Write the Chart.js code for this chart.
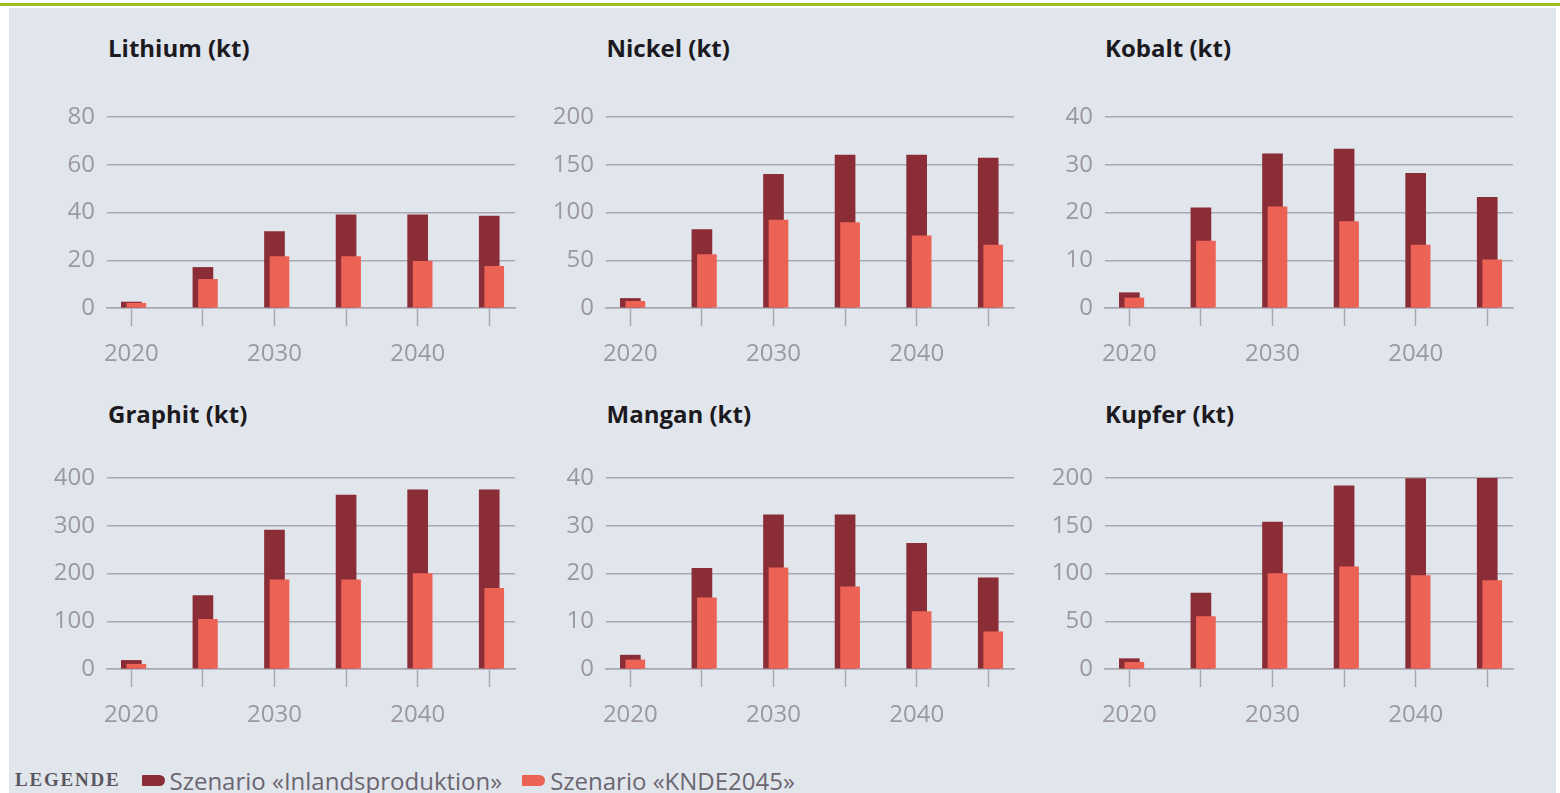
<!DOCTYPE html>
<html>
<head>
<meta charset="utf-8">
<script src="https://cdn.jsdelivr.net/npm/chart.js@4/dist/chart.umd.min.js"></script>
<style>
  body { margin: 0; background: #fff; width: 1560px; height: 793px; overflow: hidden; position: relative; font-family: "Open Sans", sans-serif; }
  #topline { position: absolute; left: 0; top: 3px; width: 1560px; height: 3px; background: #9cbc1e; }
  #panel { position: absolute; left: 9px; top: 8px; width: 1547px; height: 785px; background: #e1e6ed; }
  .title { position: absolute; font-weight: 700; font-size: 24px; color: #1c1a1e; line-height: 30px; }
  .box { position: absolute; width: 500px; height: 290px; }
  #legend { position: absolute; left: 15px; top: 765px; height: 30px; display: flex; align-items: center; color: #6b6670; font-size: 24px; white-space: nowrap; }
  #legend .lab { font-family: "Liberation Serif", serif; font-size: 19px; font-weight: 700; letter-spacing: 1.8px; color: #5b5660; margin-right: 21px; }
  #legend .sw { display: inline-block; width: 23px; height: 11px; border-radius: 1px 6px 6px 1px; margin-right: 5px; }
</style>
</head>
<body>
<div id="topline"></div>
<div id="panel"></div>
<div id="legend">
  <span class="lab">LEGENDE</span>
  <span class="sw" style="background:#8b2d36"></span><span style="margin-right:20px">Szenario «Inlandsproduktion»</span>
  <span class="sw" style="background:#ec6356"></span><span>Szenario «KNDE2045»</span>
</div>
<script>
// Jahre (x-Achse)
const years = [2020, 2025, 2030, 2035, 2040, 2045];

const titles = ["Lithium (kt)", "Nickel (kt)", "Kobalt (kt)", "Graphit (kt)", "Mangan (kt)", "Kupfer (kt)"];

// Szenario «Inlandsproduktion»
const lithiumInland = [2.5, 17, 32, 39, 39, 38.5];
const nickelInland  = [10, 82, 140, 160, 160, 157];
const kobaltInland  = [3.2, 21, 32.3, 33.3, 28.2, 23.2];
const graphitInland = [18, 154, 291, 364, 375, 375];
const manganInland  = [2.9, 21.1, 32.3, 32.3, 26.3, 19.1];
const kupferInland  = [10.8, 79.6, 153.8, 191.7, 199.4, 200];

// Szenario «KNDE2045»
const lithiumKnde = [2, 12, 21.5, 21.5, 19.5, 17.5];
const nickelKnde  = [7, 56, 92, 89.5, 75.5, 66];
const kobaltKnde  = [2.1, 14, 21.2, 18.1, 13.2, 10.1];
const graphitKnde = [10, 104, 187, 187, 200, 169];
const manganKnde  = [1.9, 14.9, 21.2, 17.2, 12, 7.8];
const kupferKnde  = [7, 55, 100, 107, 97.8, 92.5];

const yMax  = [80, 200, 40, 400, 40, 200];
const yStep = [20, 50, 10, 100, 10, 50];

const inland = [lithiumInland, nickelInland, kobaltInland, graphitInland, manganInland, kupferInland];
const knde   = [lithiumKnde, nickelKnde, kobaltKnde, graphitKnde, manganKnde, kupferKnde];

const gridColor = '#a9a8b2';
const tickColor = '#9c98a2';

// hellen Balken etwas nach rechts versetzen
const shiftPlugin = {
  id: 'shift',
  afterDatasetsUpdate(chart) {
    chart.getDatasetMeta(1).data.forEach(b => { b.x += 5; });
  }
};

function makeChart(i) {
  const col = i % 3, row = Math.floor(i / 3);

  const t = document.createElement('div');
  t.className = 'title';
  t.textContent = titles[i];
  t.style.left = (108 + col * 498.5) + 'px';
  t.style.top = (33 + row * 366) + 'px';
  document.body.appendChild(t);

  const box = document.createElement('div');
  box.className = 'box';
  box.style.left = (20 + col * 499) + 'px';
  box.style.top = (90 + row * 361) + 'px';
  const cv = document.createElement('canvas');
  cv.width = 500; cv.height = 290;
  box.appendChild(cv);
  document.body.appendChild(box);

  new Chart(cv, {
    type: 'bar',
    data: {
      datasets: [
        {
          label: 'Szenario «Inlandsproduktion»',
          data: years.map((yr, k) => ({ x: yr, y: inland[i][k] })),
          backgroundColor: '#8b2d36',
          barThickness: 20,
          order: 2
        },
        {
          label: 'Szenario «KNDE2045»',
          data: years.map((yr, k) => ({ x: yr, y: knde[i][k] })),
          backgroundColor: '#ec6356',
          barThickness: 19,
          order: 1
        }
      ]
    },
    options: {
      responsive: false,
      animation: false,
      layout: { padding: { top: 27, right: 5, bottom: 0, left: 0 } },
      datasets: { bar: { grouped: false } },
      plugins: { legend: { display: false }, tooltip: { enabled: false } },
      scales: {
        x: {
          type: 'linear',
          offset: false,
          min: 2018.3,
          max: 2046.8,
          afterBuildTicks: s => { s.ticks = years.map(v => ({ value: v })); },
          afterFit: s => { s.height = 72; },
          ticks: {
            autoSkip: false,
            maxRotation: 0,
            padding: 14,
            color: tickColor,
            font: { family: 'Open Sans', size: 24 },
            callback: v => (v % 10 === 0 ? String(v) : '')
          },
          grid: {
            offset: false,
            drawOnChartArea: false,
            drawTicks: true,
            tickLength: 18,
            tickColor: gridColor,
            tickWidth: 1.5
          },
          border: { display: true, color: gridColor, width: 1.5 }
        },
        y: {
          min: 0,
          max: yMax[i],
          afterFit: s => { s.width = 87; },
          ticks: {
            stepSize: yStep[i],
            padding: 12,
            color: tickColor,
            font: { family: 'Open Sans', size: 24 }
          },
          grid: { color: gridColor, lineWidth: 1.5, drawTicks: false },
          border: { display: false }
        }
      }
    },
    plugins: [shiftPlugin]
  });
}

for (let i = 0; i < 6; i++) makeChart(i);
</script>
</body>
</html>
